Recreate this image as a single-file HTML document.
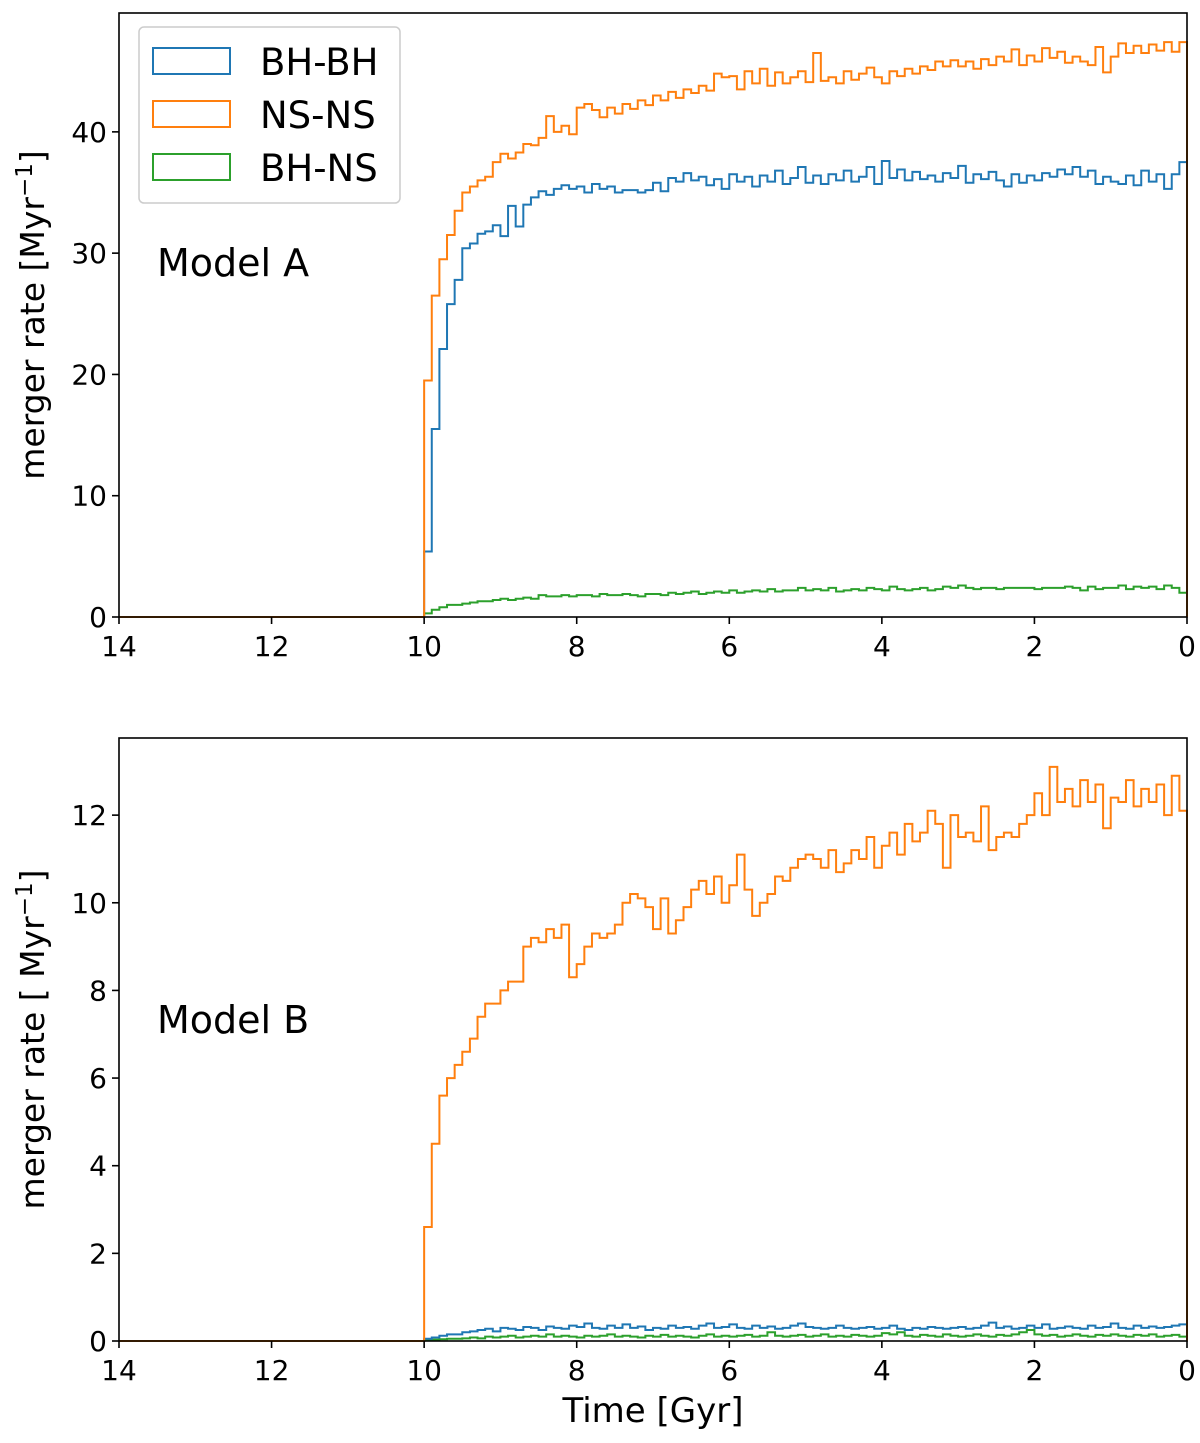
<!DOCTYPE html>
<html><head><meta charset="utf-8"><style>
body{margin:0;background:#fff;}
svg text{font-family:"DejaVu Sans","Liberation Sans",sans-serif;fill:#000;}
</style></head><body>
<svg id="chart" width="1200" height="1438" xmlns="http://www.w3.org/2000/svg"></svg>
<script>
const xTicks=[14,12,10,8,6,4,2,0];
const yTicksA=[0,10,20,30,40];
const yTicksB=[0,2,4,6,8,10,12];
const binStart=10, binWidth=0.1;
const nsA=[19.5,26.5,29.5,31.5,33.5,35.0,35.5,36.0,36.3,37.5,38.2,37.8,38.3,39.0,38.9,39.5,41.3,40.0,40.5,39.8,42.0,42.3,41.8,41.2,42.0,41.5,42.3,41.9,42.6,42.2,43.0,42.6,43.3,42.8,43.5,43.2,43.8,43.4,44.8,44.5,44.6,43.5,45.0,44.0,45.2,43.8,44.9,44.0,44.5,45.0,44.1,46.5,44.2,44.5,44.0,45.0,44.3,44.8,45.3,44.5,44.0,45.0,44.6,45.2,44.8,45.4,45.1,45.8,45.4,45.9,45.4,45.8,45.2,46.0,45.5,46.2,45.8,46.8,45.5,46.3,45.8,46.9,46.1,46.6,45.7,46.2,45.8,45.5,47.0,44.9,46.2,47.3,46.5,47.1,46.5,47.2,46.7,47.4,46.6,47.4];
const bhA=[5.4,15.5,22.1,25.8,27.8,30.4,30.8,31.6,31.8,32.3,31.4,33.9,32.2,34.0,34.6,35.1,34.8,35.3,35.6,35.3,35.5,35.0,35.7,35.3,35.5,35.0,35.2,35.2,35.0,35.2,35.8,35.1,36.2,35.9,36.6,36.0,36.3,35.6,36.1,35.3,36.5,35.9,36.3,35.5,36.4,35.9,36.8,35.7,36.2,37.1,35.8,36.4,35.7,36.5,36.0,36.8,35.9,36.3,37.1,35.7,37.6,36.2,36.9,36.0,36.7,36.1,36.4,35.9,36.6,36.2,37.2,35.8,36.5,36.1,36.7,36.0,35.5,36.5,35.8,36.4,36.0,36.6,36.3,36.9,36.5,37.1,36.3,36.8,35.7,36.3,35.9,35.7,36.4,35.6,36.8,35.9,36.5,35.3,36.5,37.5];
const bhnsA=[0.3,0.6,0.8,1.0,1.0,1.1,1.2,1.3,1.3,1.4,1.5,1.4,1.5,1.6,1.5,1.8,1.7,1.7,1.8,1.7,1.8,1.8,1.7,1.9,1.8,1.8,1.9,1.8,1.7,1.9,1.9,1.8,2.0,1.9,2.0,2.1,1.9,2.0,2.1,2.0,2.2,2.0,2.1,2.2,2.1,2.3,2.1,2.2,2.2,2.4,2.2,2.3,2.2,2.4,2.1,2.2,2.3,2.2,2.4,2.3,2.2,2.5,2.3,2.2,2.3,2.4,2.2,2.3,2.5,2.4,2.6,2.4,2.3,2.4,2.4,2.3,2.4,2.4,2.4,2.4,2.3,2.4,2.4,2.4,2.5,2.4,2.2,2.5,2.3,2.4,2.4,2.6,2.3,2.5,2.4,2.5,2.3,2.6,2.4,2.0];
const nsB=[2.6,4.5,5.6,6.0,6.3,6.6,6.9,7.4,7.7,7.7,8.0,8.2,8.2,9.0,9.2,9.1,9.4,9.2,9.5,8.3,8.6,9.0,9.3,9.2,9.3,9.5,10.0,10.2,10.1,9.9,9.4,10.1,9.3,9.6,9.9,10.3,10.5,10.2,10.6,10.0,10.4,11.1,10.3,9.7,10.0,10.2,10.6,10.5,10.8,11.0,11.1,11.0,10.8,11.2,10.7,10.9,11.2,11.0,11.5,10.8,11.3,11.6,11.1,11.8,11.4,11.6,12.1,11.8,10.8,12.0,11.5,11.6,11.4,12.2,11.2,11.5,11.6,11.5,11.8,12.0,12.5,12.0,13.1,12.3,12.6,12.2,12.8,12.3,12.7,11.7,12.4,12.3,12.8,12.2,12.6,12.3,12.7,12.0,12.9,12.1];
const bhB=[0.05,0.08,0.12,0.15,0.15,0.2,0.22,0.25,0.28,0.22,0.3,0.28,0.25,0.32,0.3,0.25,0.33,0.3,0.28,0.35,0.32,0.4,0.3,0.28,0.35,0.3,0.38,0.3,0.33,0.25,0.3,0.28,0.35,0.3,0.32,0.28,0.35,0.4,0.3,0.32,0.38,0.3,0.28,0.35,0.3,0.33,0.28,0.3,0.35,0.4,0.32,0.3,0.28,0.3,0.35,0.3,0.28,0.3,0.32,0.28,0.3,0.35,0.28,0.25,0.3,0.28,0.32,0.3,0.28,0.3,0.32,0.28,0.3,0.35,0.42,0.3,0.33,0.28,0.3,0.35,0.3,0.38,0.28,0.3,0.33,0.3,0.28,0.35,0.3,0.32,0.4,0.3,0.28,0.35,0.3,0.33,0.3,0.32,0.35,0.38];
const bhnsB=[0.02,0.03,0.04,0.05,0.05,0.06,0.08,0.06,0.1,0.08,0.1,0.12,0.08,0.1,0.12,0.1,0.15,0.1,0.12,0.1,0.08,0.12,0.1,0.12,0.15,0.1,0.12,0.1,0.08,0.12,0.1,0.14,0.1,0.12,0.1,0.08,0.12,0.15,0.1,0.12,0.1,0.12,0.14,0.1,0.12,0.2,0.12,0.1,0.12,0.14,0.1,0.12,0.15,0.1,0.12,0.1,0.14,0.12,0.1,0.12,0.18,0.15,0.2,0.12,0.1,0.14,0.12,0.1,0.15,0.12,0.1,0.12,0.15,0.12,0.1,0.14,0.12,0.15,0.2,0.25,0.15,0.12,0.14,0.1,0.12,0.15,0.12,0.1,0.14,0.12,0.15,0.12,0.1,0.14,0.12,0.15,0.1,0.12,0.14,0.1];

const NS='http://www.w3.org/2000/svg';
const svg=document.getElementById('chart');
function mk(tag,attrs,parent){const e=document.createElementNS(NS,tag);for(const k in attrs)e.setAttribute(k,attrs[k]);(parent||svg).appendChild(e);return e;}
const X0=119,X1=1187;
function xs(t){return X0+(14-t)*(X1-X0)/14;}

function panel(id,top,bottom,ymax,yTicks,series,label,ylabel,xlabel){
  const g=mk('g',{});
  
  
  function ys(v){return bottom-v*(bottom-top)/ymax;}
  series.forEach(s=>{
    let d='M'+xs(14)+','+ys(0)+' L'+xs(binStart)+','+ys(0);
    s.vals.forEach((v,i)=>{const t0=binStart-i*binWidth,t1=t0-binWidth;d+=' L'+xs(t0)+','+ys(v)+' L'+xs(t1)+','+ys(v);});
    d+=' L'+xs(0)+','+ys(0);
    const p=mk('path',{d:d,fill:'none',stroke:s.c,'stroke-width':2},g);
    
    
  });
  const fr=mk('rect',{x:X0,y:top,width:X1-X0,height:bottom-top,fill:'none',stroke:'#000','stroke-width':1.6},g);
  
  
  xTicks.forEach(t=>{
    mk('line',{x1:xs(t),x2:xs(t),y1:bottom,y2:bottom+7,stroke:'#000','stroke-width':1.6},g);
    const tx=mk('text',{x:xs(t),y:bottom+39,'font-size':28,'text-anchor':'middle'},g);tx.textContent=t;
    
    
  });
  yTicks.forEach(v=>{
    mk('line',{x1:X0-7,x2:X0,y1:ys(v),y2:ys(v),stroke:'#000','stroke-width':1.6},g);
    const tx=mk('text',{x:X0-12,y:ys(v)+10,'font-size':28,'text-anchor':'end'},g);tx.textContent=v;
    
    
  });
  const yl=mk('text',{x:0,y:0,'font-size':33,'text-anchor':'middle',transform:'translate(44,'+((top+bottom)/2)+') rotate(-90)'},g);
  yl.innerHTML=ylabel;
  
  
  const ml=mk('text',{x:157,y:label.y,'font-size':38},g);ml.textContent=label.t;
  
  
  if(xlabel){const xl=mk('text',{x:653,y:1422,'font-size':34,'text-anchor':'middle'},g);xl.textContent=xlabel;
    
    }
  return ys;
}
panel('panel-model-a',13,617,49.8,yTicksA,[{vals:bhnsA,c:'#2ca02c',n:'bh-ns-series'},{vals:bhA,c:'#1f77b4',n:'bh-bh-series'},{vals:nsA,c:'#ff7f0e',n:'ns-ns-series'}],{t:'Model A',y:276},'merger rate [Myr<tspan dy="-12" font-size="23">−1</tspan><tspan dy="12">]</tspan>',null);
panel('panel-model-b',738,1341,13.76,yTicksB,[{vals:bhnsB,c:'#2ca02c',n:'bh-ns-series'},{vals:bhB,c:'#1f77b4',n:'bh-bh-series'},{vals:nsB,c:'#ff7f0e',n:'ns-ns-series'}],{t:'Model B',y:1033},'merger rate [ Myr<tspan dy="-12" font-size="23">−1</tspan><tspan dy="12">]</tspan>','Time [Gyr]');

const lg=mk('g',{});


mk('rect',{x:139,y:27,width:261,height:176,rx:5,fill:'#fff',stroke:'#ccc','stroke-width':1.5},lg);
const leg=[['BH-BH','#1f77b4'],['NS-NS','#ff7f0e'],['BH-NS','#2ca02c']];
leg.forEach((l,i)=>{
  const y=48+i*53;
  const r=mk('rect',{x:153,y:y,width:77,height:26,fill:'none',stroke:l[1],'stroke-width':2},lg);
  
  
  const t=mk('text',{x:260,y:y+27,'font-size':37},lg);t.textContent=l[0];
  
  
});
</script>
</body></html>
